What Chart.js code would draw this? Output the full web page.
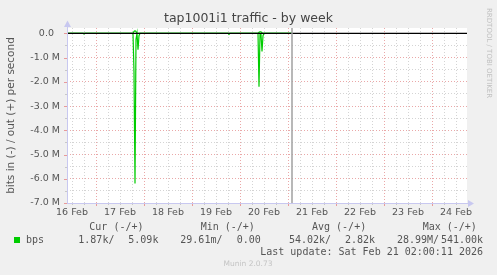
<!DOCTYPE html>
<html><head><meta charset="utf-8">
<style>html,body{margin:0;padding:0;background:#f0f0f0;}canvas{display:block;}</style>
<script src="https://cdn.jsdelivr.net/npm/chart.js@4/dist/chart.umd.min.js"></script>
</head><body>
<canvas id="c" width="497" height="275"></canvas>
<script>
// ---- data (time = hours since 16 Feb 00:00) ----
const TITLE = 'tap1001i1 traffic - by week';
const Y_AXIS_TITLE = 'bits in (-) / out (+) per second';
const DAY_LABELS = ['16 Feb','17 Feb','18 Feb','19 Feb','20 Feb','21 Feb','22 Feb','23 Feb','24 Feb'];
const Y_TICK_LABELS = ['0.0  ','-1.0 M','-2.0 M','-3.0 M','-4.0 M','-5.0 M','-6.0 M','-7.0 M'];
const IN_HOURS = [9.5, 17.5, 18, 18.5, 42.5, 43, 43.5, 44, 44.5, 45, 45.5, 46, 90, 90.5, 91, 105, 105.5, 106, 106.5, 107, 107.5, 108, 122];
const IN_BPS   = [0, 0, -30000, 0, 0, -1600000, -6200000, -250000, 0, -680000, -100000, 0, 0, -40000, 0, 0, -2200000, -50000, -50000, -750000, -100000, 0, 0];
const OUT_HOURS = [9.5, 42.5, 43, 43.5, 44, 44.5, 105, 105.5, 106, 106.5, 107, 107.5, 122];
const OUT_BPS   = [0, 0, 80000, 110000, 70000, 0, 0, 40000, 60000, 60000, 20000, 0, 0];
const NOW_HOUR = 122;           // 21 Feb 02:00
const X_MIN = 9.5, X_MAX = 209.5;
const Y_MIN = -7000000, Y_MAX = 220000;
const LEGEND_HEADERS = ['Cur (-/+)','Min (-/+)','Avg (-/+)','Max (-/+)'];
const LEGEND_NAME = 'bps';
const LEGEND_VALUES = ['1.87k/','5.09k','29.61m/','0.00','54.02k/','2.82k','28.99M/','541.00k'];
const LAST_UPDATE = 'Last update: Sat Feb 21 02:00:11 2026';
const FOOTER = 'Munin 2.0.73';
const SIDE_TEXT = 'RRDTOOL / TOBI OETIKER';

const GREEN = '#00cc00';
const SANS = '"DejaVu Sans", sans-serif';
const MONO = '"DejaVu Sans Mono", monospace';

const munin = {
  id: 'munin',
  beforeDraw(chart) {
    const {ctx, chartArea: a} = chart;
    ctx.save();
    ctx.fillStyle = '#f0f0f0';
    ctx.fillRect(0, 0, chart.width, chart.height);
    ctx.fillStyle = '#ffffff';
    ctx.fillRect(a.left, a.top, a.right - a.left, a.bottom - a.top);
    ctx.restore();
  },
  afterDraw(chart) {
    const {ctx, chartArea: a} = chart;
    const xs = chart.scales.x, ys = chart.scales.y;
    ctx.save();
    // tick marks
    ctx.lineWidth = 1;
    xs.ticks.forEach(t => {
      const px = Math.round(xs.getPixelForValue(t.value)) + 0.5;
      const major = t.value % 24 === 0;
      ctx.strokeStyle = major ? '#e89a9a' : '#c8c8c8';
      ctx.beginPath(); ctx.moveTo(px, a.bottom); ctx.lineTo(px, a.bottom + (major ? 3 : 2)); ctx.stroke();
    });
    ys.ticks.forEach(t => {
      const py = Math.round(ys.getPixelForValue(t.value)) + 0.5;
      const major = t.value % 1000000 === 0;
      ctx.strokeStyle = major ? '#e89a9a' : '#c8c8c8';
      ctx.beginPath(); ctx.moveTo(a.left - (major ? 3 : 2), py); ctx.lineTo(a.left, py); ctx.stroke();
    });
    // axes with arrows
    ctx.strokeStyle = '#c8c8f0'; ctx.fillStyle = '#c8c8f0';
    ctx.beginPath(); ctx.moveTo(a.left + 0.5, a.bottom); ctx.lineTo(a.left + 0.5, a.top - 6); ctx.stroke();
    ctx.beginPath(); ctx.moveTo(a.left - 3, a.top - 1); ctx.lineTo(a.left + 4, a.top - 1); ctx.lineTo(a.left + 0.5, a.top - 7.5); ctx.closePath(); ctx.fill();
    ctx.beginPath(); ctx.moveTo(a.left, a.bottom + 0.5); ctx.lineTo(a.right + 5, a.bottom + 0.5); ctx.stroke();
    ctx.beginPath(); ctx.moveTo(a.right + 1, a.bottom - 3); ctx.lineTo(a.right + 1, a.bottom + 4); ctx.lineTo(a.right + 7, a.bottom + 0.5); ctx.closePath(); ctx.fill();
    // title
    ctx.fillStyle = '#444';
    ctx.font = '12.5px ' + SANS;
    ctx.textAlign = 'center'; ctx.textBaseline = 'middle';
    ctx.fillText(TITLE, 248.5, 19);
    // side text
    ctx.save();
    ctx.translate(489, 8);
    ctx.rotate(Math.PI / 2);
    ctx.fillStyle = '#c0c0c0';
    ctx.font = '7px ' + SANS;
    ctx.textAlign = 'left'; ctx.textBaseline = 'middle';
    ctx.fillText(SIDE_TEXT, 0, 0);
    ctx.restore();
    // legend
    ctx.fillStyle = '#555';
    ctx.font = '10px ' + MONO;
    ctx.textBaseline = 'middle'; ctx.textAlign = 'left';
    const hx = [89.3, 200.7, 312, 422.7];
    LEGEND_HEADERS.forEach((h, i) => ctx.fillText(h, hx[i], 227.5));
    ctx.fillStyle = GREEN;
    ctx.fillRect(14, 237, 6, 6);
    ctx.fillStyle = '#555';
    ctx.fillText(LEGEND_NAME, 26, 240);
    const vx = [78.3, 128.3, 180.3, 236.7, 289, 345, 397, 441];
    LEGEND_VALUES.forEach((v, i) => ctx.fillText(v, vx[i], 240));
    ctx.textAlign = 'right';
    ctx.fillText(LAST_UPDATE, 483, 252);
    ctx.textAlign = 'center';
    ctx.fillStyle = '#c4c4c4';
    ctx.font = '7.5px ' + SANS;
    ctx.fillText(FOOTER, 248, 264);
    ctx.restore();
  }
};

new Chart(document.getElementById('c'), {
  type: 'line',
  data: {
    datasets: [
      { label: 'now', data: [{x: NOW_HOUR, y: Y_MIN}, {x: NOW_HOUR, y: Y_MAX}], borderColor: '#a0a0a0', borderWidth: 1.5, pointRadius: 0 },
      { label: 'zero', data: [{x: X_MIN, y: 0}, {x: X_MAX, y: 0}], borderColor: '#000000', borderWidth: 1.3, pointRadius: 0 },
      { label: 'out', data: OUT_HOURS.map((h, i) => ({x: h, y: OUT_BPS[i]})), borderColor: GREEN, borderWidth: 1.2, pointRadius: 0, tension: 0 },
      { label: 'in', data: IN_HOURS.map((h, i) => ({x: h, y: IN_BPS[i]})), borderColor: GREEN, borderWidth: 1.2, pointRadius: 0, tension: 0 }
    ]
  },
  options: {
    responsive: false,
    animation: false,
    devicePixelRatio: 1,
    layout: { padding: { top: 28, right: 30, bottom: 0, left: 0 } },
    plugins: { legend: { display: false }, tooltip: { enabled: false }, title: { display: false } },
    scales: {
      x: {
        type: 'linear', min: X_MIN, max: X_MAX,
        afterBuildTicks: s => { const t = []; for (let h = 12; h <= X_MAX; h += 6) t.push({value: h}); s.ticks = t; },
        afterFit: s => { s.height = 72; },
        grid: { drawTicks: false, color: c => (c.tick && c.tick.value % 24 === 0) ? '#eaa8a8' : '#d4d4d4', lineWidth: 1 },
        border: { display: false, dash: [1, 2] },
        ticks: {
          autoSkip: false, maxRotation: 0, padding: 4, color: '#555',
          font: { family: 'DejaVu Sans', size: 9.5 },
          callback: v => ((v - 12) % 24 === 0) ? DAY_LABELS[(v - 12) / 24] : ''
        }
      },
      y: {
        type: 'linear', min: Y_MIN, max: Y_MAX,
        afterBuildTicks: s => { const t = []; for (let v = 0; v >= Y_MIN; v -= 500000) t.push({value: v}); s.ticks = t; },
        afterFit: s => { s.width = 67; },
        grid: { drawTicks: false, color: c => (c.tick && c.tick.value % 1000000 === 0) ? '#eaa8a8' : '#d4d4d4', lineWidth: 1 },
        border: { display: false, dash: [1, 2] },
        title: { display: true, text: Y_AXIS_TITLE, color: '#555', font: { family: 'DejaVu Sans', size: 10.5 }, padding: { top: 4.5, bottom: 0 } },
        ticks: {
          autoSkip: false, padding: 7, color: '#555',
          font: { family: 'DejaVu Sans', size: 9.5 },
          callback: v => (v % 1000000 === 0) ? Y_TICK_LABELS[-v / 1000000] : ''
        }
      }
    }
  },
  plugins: [munin]
});
</script>
</body></html>
